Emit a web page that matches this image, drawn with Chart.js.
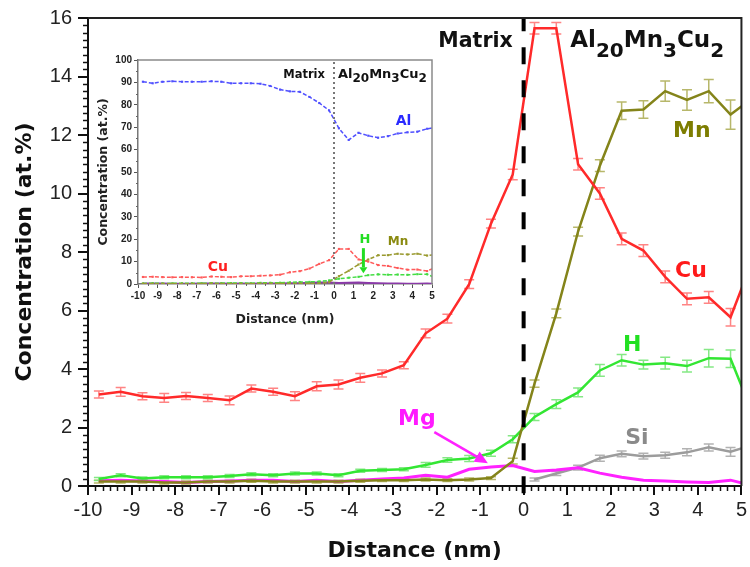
<!DOCTYPE html>
<html><head><meta charset="utf-8">
<script src="https://cdn.jsdelivr.net/npm/chart.js@4/dist/chart.umd.min.js"></script>
<style>
html,body{margin:0;padding:0;background:#fff;}
#wrap{position:relative;width:750px;height:567px;overflow:hidden;background:#fff;}
#main{position:absolute;left:0;top:0;width:750px;height:567px;}
#inset{position:absolute;left:95px;top:48px;width:345px;height:287px;}
</style></head><body>
<div id="wrap"><canvas id="main" width="750" height="567"></canvas><canvas id="inset" width="345" height="287"></canvas></div>
<script>
// ---------- data ----------
const distance = [-9.75,-9.25,-8.75,-8.25,-7.75,-7.25,-6.75,-6.25,-5.75,-5.25,-4.75,-4.25,-3.75,-3.25,-2.75,-2.25,-1.75,-1.25,-0.75,-0.25,0.25,0.75,1.25,1.75,2.25,2.75,3.25,3.75,4.25,4.75,5.25];
const cu = [3.13,3.22,3.07,3.01,3.08,3.01,2.93,3.33,3.22,3.07,3.41,3.47,3.70,3.85,4.13,5.22,5.72,6.90,8.97,10.65,15.65,15.65,11.0,10.0,8.45,8.05,7.15,6.40,6.45,5.77,7.7];
const mn = [0.15,0.15,0.15,0.12,0.12,0.15,0.15,0.18,0.15,0.15,0.15,0.15,0.18,0.20,0.20,0.22,0.20,0.22,0.27,0.85,3.5,5.9,8.7,10.95,12.83,12.87,13.5,13.2,13.5,12.7,13.25];
const h  = [0.24,0.37,0.26,0.30,0.30,0.30,0.34,0.40,0.37,0.43,0.43,0.37,0.52,0.55,0.57,0.72,0.89,0.94,1.12,1.60,2.36,2.80,3.20,3.95,4.30,4.15,4.20,4.10,4.37,4.35,2.5];
const si = [null,null,null,null,null,null,null,null,null,null,null,null,null,null,null,null,null,null,null,null,0.22,0.43,0.63,0.95,1.10,1.02,1.05,1.15,1.32,1.17,1.40];
const mg = [0.18,0.20,0.17,0.15,0.12,0.15,0.17,0.20,0.20,0.15,0.20,0.15,0.20,0.24,0.27,0.37,0.30,0.57,0.65,0.70,0.50,0.55,0.62,0.44,0.30,0.20,0.17,0.14,0.12,0.20,0.02];
const al = [90.3,89.6,90.3,90.5,90.3,90.3,90.3,90.5,90.3,89.6,89.6,89.6,89.4,88.4,86.8,86.0,85.8,83.5,80.8,77.5,69.5,64.3,67.5,66.2,65.3,66.0,67.2,67.7,68.0,69.3,70.0];
const cuErr = [0.12,0.15,0.12,0.15,0.12,0.12,0.15,0.12,0.12,0.15,0.15,0.15,0.15,0.12,0.12,0.15,0.15,0.15,0.15,0.18,0.2,0.2,0.2,0.2,0.2,0.2,0.2,0.2,0.2,0.3,0.2];
const mnErr = [0.05,0.05,0.05,0.05,0.05,0.05,0.05,0.05,0.05,0.05,0.05,0.05,0.05,0.05,0.05,0.05,0.05,0.05,0.05,0.1,0.12,0.15,0.15,0.2,0.3,0.3,0.35,0.35,0.4,0.5,0.3];
const hErr = [0.05,0.05,0.05,0.05,0.05,0.05,0.05,0.05,0.05,0.05,0.05,0.05,0.05,0.05,0.05,0.08,0.08,0.1,0.1,0.12,0.12,0.15,0.15,0.2,0.2,0.15,0.2,0.2,0.3,0.3,0.2];
const siErr = [null,null,null,null,null,null,null,null,null,null,null,null,null,null,null,null,null,null,null,null,0.05,0.07,0.08,0.1,0.1,0.1,0.1,0.12,0.12,0.15,0.15];
const xTicksMain = [-10,5,1];   // min, max, step
const yTicksMain = [0,16,2];
const xTicksInset = [-10,5,1];
const yTicksInset = [0,100,10];

const pts = arr => distance.map((d,i)=>({x:d,y:arr[i]}));

// ---------- plugins ----------
const errorBars = {
  id:'errorBars',
  beforeDatasetsDraw(chart){
    const {ctx, chartArea:a} = chart; const xs=chart.scales.x, ys=chart.scales.y;
    ctx.save(); ctx.beginPath(); ctx.rect(a.left, a.top-6, a.right-a.left, a.bottom-a.top+6); ctx.clip();
    chart.data.datasets.forEach(ds=>{
      if(!ds.errorBars) return;
      ctx.strokeStyle = ds.errorColor; ctx.lineWidth = 1.5;
      ds.data.forEach((p,i)=>{
        const e = ds.errorBars[i]; if(p.y==null || e==null) return;
        const px = xs.getPixelForValue(p.x), y1 = ys.getPixelForValue(p.y-e), y2 = ys.getPixelForValue(p.y+e);
        ctx.beginPath();
        ctx.moveTo(px,y1); ctx.lineTo(px,y2);
        ctx.moveTo(px-5,y1); ctx.lineTo(px+5,y1);
        ctx.moveTo(px-5,y2); ctx.lineTo(px+5,y2);
        ctx.stroke();
      });
    });
    ctx.restore();
  }
};
const minorTicks = {
  id:'minorTicks',
  afterDraw(chart, args, o){
    const {ctx, chartArea:a} = chart; const xs=chart.scales.x, ys=chart.scales.y;
    ctx.save(); ctx.strokeStyle=o.color; ctx.lineWidth=o.width;
    const n1 = Math.round((xs.max-xs.min)/o.xStep);
    for(let i=0;i<=n1;i++){
      const v = xs.min + i*o.xStep;
      if(Math.abs(v/o.xMajor - Math.round(v/o.xMajor))<1e-6) continue;
      const px = Math.round(xs.getPixelForValue(v))+0.5;
      ctx.beginPath(); ctx.moveTo(px,a.bottom); ctx.lineTo(px,a.bottom+o.len); ctx.stroke();
    }
    const n2 = Math.round((ys.max-ys.min)/o.yStep);
    for(let i=0;i<=n2;i++){
      const v = ys.min + i*o.yStep;
      if(Math.abs(v/o.yMajor - Math.round(v/o.yMajor))<1e-6) continue;
      const py = Math.round(ys.getPixelForValue(v))+0.5;
      ctx.beginPath(); ctx.moveTo(a.left,py); ctx.lineTo(a.left-o.len,py); ctx.stroke();
    }
    // frame: top and right
    ctx.strokeStyle=o.frameColor; ctx.lineWidth=o.frameWidth;
    ctx.beginPath(); ctx.moveTo(a.left,a.top); ctx.lineTo(a.right,a.top); ctx.lineTo(a.right,a.bottom); ctx.stroke();
    ctx.restore();
  }
};
const annot = {
  id:'annot',
  afterDatasetsDraw(chart, args, o){
    const {ctx} = chart; const xs=chart.scales.x, ys=chart.scales.y;
    ctx.save();
    (o.arrows||[]).forEach(r=>{
      const x1=xs.getPixelForValue(r.x1), y1=ys.getPixelForValue(r.y1), x2=xs.getPixelForValue(r.x2), y2=ys.getPixelForValue(r.y2);
      const ang=Math.atan2(y2-y1,x2-x1), hx=x2-r.head*Math.cos(ang), hy=y2-r.head*Math.sin(ang);
      ctx.strokeStyle=r.color; ctx.fillStyle=r.color; ctx.lineWidth=r.width;
      ctx.beginPath(); ctx.moveTo(x1,y1); ctx.lineTo(hx,hy); ctx.stroke();
      ctx.beginPath(); ctx.moveTo(x2,y2);
      ctx.lineTo(hx+r.headW*Math.sin(ang), hy-r.headW*Math.cos(ang));
      ctx.lineTo(hx-r.headW*Math.sin(ang), hy+r.headW*Math.cos(ang));
      ctx.closePath(); ctx.fill();
    });
    (o.labels||[]).forEach(l=>{
      ctx.fillStyle=l.color;
      ctx.textBaseline = l.baseline||'middle';
      ctx.textAlign='left';
      const fonts = l.parts.map(p=>`bold ${p[1]}px "DejaVu Sans"`);
      let w=0; const ws=l.parts.map((p,i)=>{ctx.font=fonts[i]; const m=ctx.measureText(p[0]).width; w+=m; return m;});
      let x = xs.getPixelForValue(l.x); const y = ys.getPixelForValue(l.y);
      if(l.align==='center') x-=w/2; else if(l.align==='right') x-=w;
      l.parts.forEach((p,i)=>{ ctx.font=fonts[i]; ctx.fillText(p[0], x, y + (p[2]?(l.subShift||0):0)); x+=ws[i]; });
    });
    ctx.restore();
  }
};

const lineDs = (label, arr, color, err, errColor, extra) => Object.assign({
  label, data: pts(arr), borderColor: color, backgroundColor: color, borderWidth: 2.5,
  pointRadius: 0, tension: 0, fill: false, clip: 0, errorBars: err, errorColor: errColor
}, extra||{});

// ---------- main chart ----------
new Chart(document.getElementById('main'), {
  type:'line',
  data:{datasets:[
    {label:'interface', data:[{x:0,y:-0.25},{x:0,y:16}], borderColor:'#000', borderWidth:4, borderDash:[17,16], pointRadius:0, clip:false},
    lineDs('Cu', cu, '#ff2a2a', cuErr, 'rgba(255,110,110,0.85)'),
    lineDs('Mn', mn, '#84841a', mnErr, 'rgba(175,175,90,0.9)'),
    lineDs('H', h, '#33e633', hErr, 'rgba(120,230,120,0.9)'),
    lineDs('Mg', mg, '#ff22ff', null, null, {borderWidth:3}),
    lineDs('Si', si, '#9c9c9c', siErr, 'rgba(170,170,170,0.9)')
  ]},
  options:{
    responsive:false, animation:false, devicePixelRatio:1,
    layout:{padding:{top:17,right:5,left:0,bottom:0}},
    plugins:{
      legend:{display:false}, tooltip:{enabled:false},
      minorTicks:{xStep:1/6, xMajor:1, yStep:0.25, yMajor:2, len:5, color:'#111', width:1.5, frameColor:'#222', frameWidth:2},
      annot:{
        arrows:[{x1:-2.05,y1:1.84,x2:-0.82,y2:0.78,color:'#ff22ff',width:2.5,head:13,headW:6}],
        labels:[
          {x:-0.25,y:15,align:'right',baseline:'alphabetic',color:'#111',parts:[['Matrix',20.5]]},
          {x:1.07,y:15,align:'left',baseline:'alphabetic',color:'#111',subShift:9.5,parts:[['Al',23],['20',20,1],['Mn',23],['3',20,1],['Cu',23],['2',20,1]]},
          {x:3.86,y:12.12,align:'center',color:'#7d7d00',parts:[['Mn',22]]},
          {x:3.84,y:7.34,align:'center',color:'#ff1a1a',parts:[['Cu',22]]},
          {x:2.49,y:4.81,align:'center',color:'#22e022',parts:[['H',22]]},
          {x:2.60,y:1.64,align:'center',color:'#8a8a8a',parts:[['Si',22]]},
          {x:-2.45,y:2.27,align:'center',color:'#ff1aff',parts:[['Mg',22]]}
        ]
      }
    },
    scales:{
      x:{type:'linear', min:xTicksMain[0], max:xTicksMain[1], afterFit(s){s.height=81;},
        ticks:{stepSize:xTicksMain[2], autoSkip:false, maxRotation:0, padding:3, color:'#222', font:{family:'Liberation Sans', size:20}},
        grid:{drawOnChartArea:false, color:'#111', lineWidth:2, tickLength:9},
        border:{color:'#111', width:2},
        title:{display:true, text:'Distance (nm)', color:'#111', font:{family:'DejaVu Sans', size:22, weight:'bold'}, padding:{top:0,bottom:3}}},
      y:{type:'linear', min:yTicksMain[0], max:yTicksMain[1], afterFit(s){s.width=88;},
        ticks:{stepSize:yTicksMain[2], padding:6, color:'#222', font:{family:'Liberation Sans', size:20}},
        grid:{drawOnChartArea:false, color:'#111', lineWidth:2, tickLength:10},
        border:{color:'#111', width:2},
        title:{display:true, text:'Concentration (at.%)', color:'#111', font:{family:'DejaVu Sans', size:22, weight:'bold'}, padding:{top:12,bottom:0}}}
    }
  },
  plugins:[errorBars, minorTicks, annot]
});

// ---------- inset chart ----------
const insetDs = (label, arr, color, extra) => Object.assign({
  label, data: pts(arr), borderColor: color, backgroundColor: color, borderWidth: 1.5, borderDash:[4,2],
  pointRadius: 1.5, pointStyle:'rect', pointBorderWidth:0, tension:0, fill:false, clip:0
}, extra||{});
new Chart(document.getElementById('inset'), {
  type:'line',
  data:{datasets:[
    {label:'interface', data:[{x:0,y:0},{x:0,y:100}], borderColor:'#777', borderWidth:2, borderDash:[2,3], pointRadius:0},
    insetDs('Al', al, '#5050ff'),
    insetDs('Cu', cu, '#ff5a5a'),
    insetDs('Mn', mn, '#9a9a30'),
    insetDs('H', h, '#44dd44'),
    insetDs('Mg', mg, '#8a3aa8', {borderDash:[], pointRadius:0, borderWidth:2})
  ]},
  options:{
    responsive:false, animation:false, devicePixelRatio:1,
    layout:{padding:{top:12,right:8,left:0,bottom:0}},
    plugins:{
      legend:{display:false}, tooltip:{enabled:false},
      minorTicks:{xStep:0.5, xMajor:1, yStep:5, yMajor:10, len:2, color:'#666', width:1, frameColor:'#8a8a8a', frameWidth:1.5},
      annot:{
        arrows:[{x1:1.5,y1:16,x2:1.5,y2:4.8,color:'#22dd22',width:3,head:6,headW:4}],
        labels:[
          {x:-0.46,y:92,align:'right',baseline:'alphabetic',color:'#111',parts:[['Matrix',11.5]]},
          {x:0.2,y:92,align:'left',baseline:'alphabetic',color:'#111',subShift:4.5,parts:[['Al',13],['20',12,1],['Mn',13],['3',12,1],['Cu',13],['2',12,1]]},
          {x:3.55,y:72.8,align:'center',color:'#2a2aff',parts:[['Al',14]]},
          {x:-5.92,y:7.6,align:'center',color:'#ff2020',parts:[['Cu',14]]},
          {x:1.58,y:19.6,align:'center',color:'#22dd22',parts:[['H',13]]},
          {x:3.27,y:18.75,align:'center',color:'#8a8a10',parts:[['Mn',12]]}
        ]
      }
    },
    scales:{
      x:{type:'linear', min:xTicksInset[0], max:xTicksInset[1], afterFit(s){s.height=51;},
        ticks:{stepSize:xTicksInset[2], autoSkip:false, maxRotation:0, padding:2, color:'#222', font:{family:'Liberation Sans', size:10, weight:'bold'}},
        grid:{drawOnChartArea:false, color:'#555', lineWidth:1, tickLength:4},
        border:{color:'#777', width:1.5},
        title:{display:true, text:'Distance (nm)', color:'#222', font:{family:'DejaVu Sans', size:12.5, weight:'bold'}, padding:{top:0,bottom:7.5}}},
      y:{type:'linear', min:yTicksInset[0], max:yTicksInset[1], afterFit(s){s.width=43;},
        ticks:{stepSize:yTicksInset[2], padding:2, color:'#222', font:{family:'Liberation Sans', size:10, weight:'bold'}},
        grid:{drawOnChartArea:false, color:'#555', lineWidth:1, tickLength:4},
        border:{color:'#777', width:1.5},
        title:{display:true, text:'Concentration (at.%)', color:'#222', font:{family:'DejaVu Sans', size:12.5, weight:'bold'}, padding:{top:1.5,bottom:0}}}
    }
  },
  plugins:[minorTicks, annot]
});
</script>
</body></html>
